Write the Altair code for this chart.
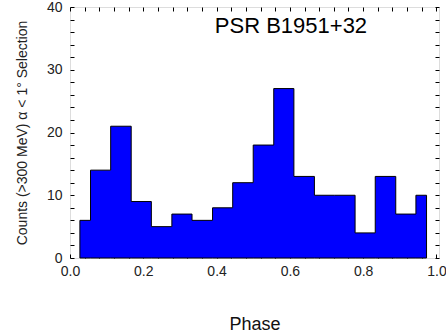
import altair as alt
import pandas as pd

# Histogram of pulsar phase (counts per phase bin)
counts = [6, 14, 21, 9, 5, 7, 6, 8, 12, 18, 27, 13, 10, 10, 4, 13, 7, 10]
edges = [0.027, 0.056, 0.111, 0.167, 0.222, 0.278, 0.333, 0.389, 0.444, 0.5,
         0.556, 0.611, 0.667, 0.722, 0.778, 0.833, 0.889, 0.944, 0.973]
annotation = ["PSR B1951+32"]

x_ticks = [round(i * 0.04, 2) for i in range(26)]
y_ticks = list(range(0, 41, 2))

df = pd.DataFrame({"phase": edges, "count": counts + [counts[-1]]})
ann_df = pd.DataFrame({"label": annotation})

FONT = "Liberation Sans"
x_scale = alt.Scale(domain=[0, 1.007], nice=False, zero=False)
y_scale = alt.Scale(domain=[0, 40], nice=False)

x_label_expr = "abs(datum.value*5 - round(datum.value*5)) < 0.001 ? format(datum.value, '.1f') : ''"
y_label_expr = "datum.value % 10 == 0 ? format(datum.value, 'd') : ''"

area = alt.Chart(df).mark_area(
    interpolate="step-after", fill="#0000FF", stroke="black", strokeWidth=1
).encode(
    x=alt.X("phase:Q", scale=x_scale, axis=alt.Axis(
        orient="bottom", values=x_ticks, labelExpr=x_label_expr, offset=-4,
        tickSize=4, tickColor="black", domain=False, grid=False, labelPadding=6,
        labelFontSize=14, labelColor="#222", labelFont=FONT, labelOverlap=False,
        labelFlush=False, labelBound=False, title="Phase", titleFontSize=18,
        titleFontWeight="normal", titleFont=FONT, titleColor="#111",
        titleY=75, titleBaseline="alphabetic")),
    y=alt.Y("count:Q", scale=y_scale, stack=None, axis=alt.Axis(
        orient="left", values=y_ticks, labelExpr=y_label_expr, offset=-4,
        tickSize=4, tickColor="black", domain=False, grid=False, labelPadding=8,
        labelFontSize=14, labelColor="#222", labelFont=FONT, labelOverlap=False,
        labelFlush=False, labelBound=False,
        title="Counts (>300 MeV) α < 1° Selection", titleFontSize=14,
        titleFontWeight="normal", titleFont=FONT, titleColor="#222",
        titlePadding=17)),
)

label = alt.Chart(ann_df).mark_text(
    font=FONT, fontSize=22, fontWeight="normal",
    color="black", align="center", baseline="middle"
).encode(
    text="label:N",
    x=alt.datum(0.603, scale=x_scale, axis=None),
    y=alt.datum(37, scale=y_scale, axis=None),
)

mirror = alt.Chart(df).mark_line(opacity=0).encode(
    x=alt.X("phase:Q", scale=x_scale, axis=alt.Axis(
        orient="top", values=x_ticks, labels=False, offset=-4, tickSize=4,
        tickColor="black", domain=False, grid=False, title=None)),
    y=alt.Y("count:Q", scale=y_scale, axis=alt.Axis(
        orient="right", values=y_ticks, labels=False, offset=-4, tickSize=4,
        tickColor="black", domain=False, grid=False, title=None)),
)

chart = alt.layer(area, label, mirror).resolve_axis(
    x="independent", y="independent"
).properties(
    width=369, height=251,
    padding={"left": 70, "top": 7, "right": 7, "bottom": 74},
    autosize=alt.AutoSizeParams(type="none"),
).configure_view(
    fill="#FFFF80", stroke="#222", strokeWidth=1
).configure(background="white")

chart.save("out.html", embed_options={"renderer": "svg", "actions": False})
